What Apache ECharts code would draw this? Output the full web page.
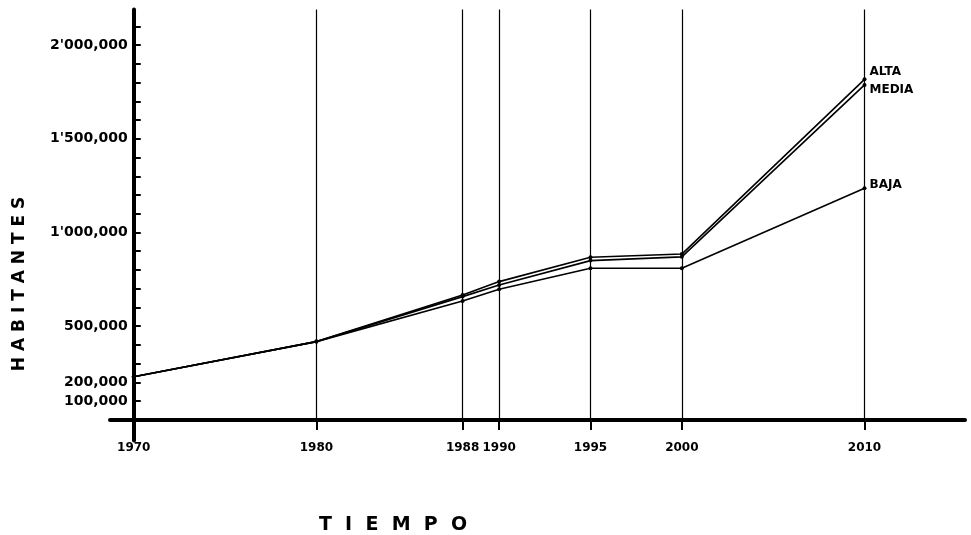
<!DOCTYPE html>
<html>
<head>
<meta charset="utf-8">
<script src="https://cdn.jsdelivr.net/npm/echarts@6/dist/echarts.min.js"></script>
<style>
    html, body {
        margin: 0;
        padding: 0;
        background: #fff;
    }
    #chart {
        width: 971px;
        height: 535px;
    }
</style>
</head>
<body>
<div id="chart"></div>
<script>
// años del eje horizontal
const years = [1970, 1980, 1988, 1990, 1995, 2000, 2010]
// hipotesis de crecimiento (habitantes)
const alta = [231000, 418000, 667000, 738000, 868000, 885000, 1817000]
const media = [231000, 418000, 658000, 720000, 850000, 870000, 1787000]
const baja = [231000, 418000, 635000, 697000, 809000, 809000, 1236000]
const seriesNames = ['ALTA', 'MEDIA', 'BAJA']

// etiquetas del eje vertical
const yLabelValues = [100000, 200000, 500000, 1000000, 1500000, 2000000]
const yLabelTexts = ['100,000', '200,000', '500,000', "1'000,000", "1'500,000", "2'000,000"]

const yMin = -110000
const yMax = 2190000
const xMin = 1968.7
const xMax = 2015.5

let yTicks = []
for (let v = 100000; v <= 2100000; v += 100000) {
    yTicks.push(v)
}

let chart = echarts.init(document.getElementById('chart'), null, { renderer: 'canvas' })

const toPairs = (vals) => years.map((y, i) => [y, vals[i]])

const lineSeries = (name, vals, labelOffset) => {
    return {
        name: name,
        type: 'line',
        data: toPairs(vals),
        symbol: 'circle',
        symbolSize: 4,
        lineStyle: { color: '#000', width: 1.6 },
        itemStyle: { color: '#000' },
        endLabel: {
            show: true,
            formatter: name,
            color: '#000',
            fontFamily: 'DejaVu Sans',
            fontWeight: 'bold',
            fontSize: 12,
            distance: 5,
            offset: labelOffset
        }
    }
}

let altaSeries = lineSeries(seriesNames[0], alta, [0, -7])
altaSeries.markLine = {
    silent: true,
    symbol: ['none', 'none'],
    label: { show: false },
    lineStyle: { color: '#000', width: 1.2, type: 'solid' },
    data: years.slice(1).map(y => [{ coord: [y, 0] }, { coord: [y, yMax] }])
}

let option = {
    animation: false,
    backgroundColor: '#fff',
    grid: {
        left: 110,
        right: 6,
        top: 9.4,
        bottom: 94.4
    },
    xAxis: {
        type: 'value',
        min: xMin,
        max: xMax,
        axisLine: { show: true, onZero: true, lineStyle: { color: '#000', width: 4 } },
        axisTick: {
            show: true,
            customValues: years,
            length: 10,
            lineStyle: { color: '#000', width: 2 }
        },
        axisLabel: {
            customValues: years,
            formatter: v => String(v),
            margin: 1,
            color: '#000',
            fontFamily: 'DejaVu Sans',
            fontWeight: 'bold',
            fontSize: 12
        },
        splitLine: { show: false }
    },
    yAxis: {
        type: 'value',
        min: yMin,
        max: yMax,
        offset: -23.75,
        axisLine: { show: true, onZero: false, lineStyle: { color: '#000', width: 4 } },
        axisTick: {
            show: true,
            inside: true,
            customValues: yTicks,
            length: 7,
            lineStyle: { color: '#000', width: 2 }
        },
        axisLabel: {
            customValues: yLabelValues,
            formatter: v => yLabelTexts[yLabelValues.indexOf(v)],
            margin: 6,
            color: '#000',
            fontFamily: 'DejaVu Sans',
            fontWeight: 'bold',
            fontSize: 14
        },
        splitLine: { show: false }
    },
    graphic: [
        {
            type: 'text',
            x: 20,
            y: 284,
            rotation: Math.PI / 2,
            style: {
                text: 'H A B I T A N T E S',
                fill: '#000',
                font: 'bold 17px "DejaVu Sans"',
                align: 'center',
                verticalAlign: 'middle'
            }
        },
        {
            type: 'text',
            x: 393,
            y: 525,
            style: {
                text: 'T  I  E  M  P  O',
                fill: '#000',
                font: 'bold 19px "DejaVu Sans"',
                align: 'center',
                verticalAlign: 'middle'
            }
        }
    ],
    series: [
        altaSeries,
        lineSeries(seriesNames[1], media, [0, 5]),
        lineSeries(seriesNames[2], baja, [0, -3])
    ]
}

chart.setOption(option)
</script>
</body>
</html>
